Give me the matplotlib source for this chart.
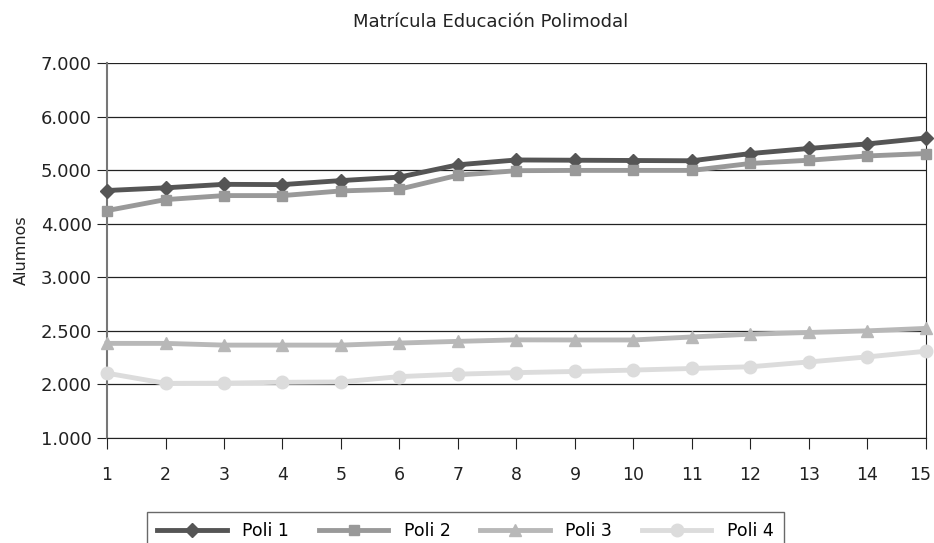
import numpy as np
import matplotlib.pyplot as plt
from matplotlib.transforms import ScaledTranslation

plt.rcParams['font.family'] = ['DejaVu Sans']

# matricula por año (1 a 15) para cada polimodal
anios = list(range(1, 16))
poli1 = [4620, 4670, 4735, 4730, 4805, 4870, 5100, 5190, 5185, 5180, 5175, 5310, 5405, 5490, 5600]
poli2 = [4245, 4450, 4525, 4525, 4612, 4645, 4905, 4990, 4995, 4995, 4995, 5125, 5185, 5265, 5310]
poli3 = [2383, 2383, 2367, 2367, 2367, 2386, 2402, 2416, 2415, 2415, 2443, 2469, 2485, 2500, 2523]
poli4 = [2105, 2010, 2012, 2020, 2023, 2073, 2096, 2110, 2121, 2134, 2149, 2165, 2210, 2257, 2310]

series = ["Poli 1", "Poli 2", "Poli 3", "Poli 4"]
ticks_y = [1000, 2000, 2500, 3000, 4000, 5000, 6000, 7000]
ticks_lbl = ["1.000", "2.000", "2.500", "3.000", "4.000", "5.000", "6.000", "7.000"]

# eje con tramos iguales entre marcas (escala por tramos)
pos = np.arange(len(ticks_y))
fwd = lambda v: np.interp(v, ticks_y, pos, left=np.nan, right=np.nan)
inv = lambda p: np.interp(p, pos, ticks_y)

fig = plt.figure(figsize=(9.34, 5.43), dpi=100)
ax = fig.add_axes([107/934, 1-438/543, (926-107)/934, (438-63)/543])
ax.set_yscale('function', functions=(fwd, inv))

colores = ["#555555", "#999999", "#b8b8b8", "#dcdcdc"]
marcas = ["D", "s", "^", "o"]
tam = [7, 7, 9, 9]
for nombre, datos, c, m, s in zip(series, [poli1, poli2, poli3, poli4], colores, marcas, tam):
    ax.plot(anios, datos, color=c, marker=m, markersize=s, lw=3.5, label=nombre,
            clip_on=False, zorder=3)

ax.set_xlim(1, 15)
ax.set_ylim(1000, 7000)
ax.set_xticks(anios)
ax.set_yticks(ticks_y)
ax.set_yticklabels(ticks_lbl)
ax.yaxis.grid(True, color="#222222", lw=0.9)
ax.set_axisbelow(True)

ax.spines["top"].set_visible(False)
ax.spines["left"].set_color("#777777")
ax.spines["left"].set_linewidth(1.5)
ax.spines["right"].set_color("#222222")
ax.spines["bottom"].set_color("#222222")
ax.tick_params(axis="y", length=7, labelsize=13, colors="#222222", pad=4)
ax.tick_params(axis="x", length=8, labelsize=12.5, colors="#222222", pad=12)
ax.set_ylabel("Alumnos", fontsize=11.5, color="#222222", labelpad=8)

# la ultima etiqueta del eje x se corre un poco para que no se corte
ult = ax.get_xticklabels()[-1]
ult.set_transform(ult.get_transform() + ScaledTranslation(-6/100, 0, fig.dpi_scale_trans))

fig.text(491/934, 1-22/543, "Matrícula Educación Polimodal", ha="center", va="center",
         fontsize=13, color="#222222")

fig.legend(loc="upper left", bbox_to_anchor=(147/934, 1-512/543), ncol=4,
           frameon=True, fancybox=False, edgecolor="#444444", fontsize=12.5,
           handlelength=4.0, handletextpad=0.9, columnspacing=1.7,
           borderpad=0.6, borderaxespad=0)

fig.savefig("out.png", dpi=100)
